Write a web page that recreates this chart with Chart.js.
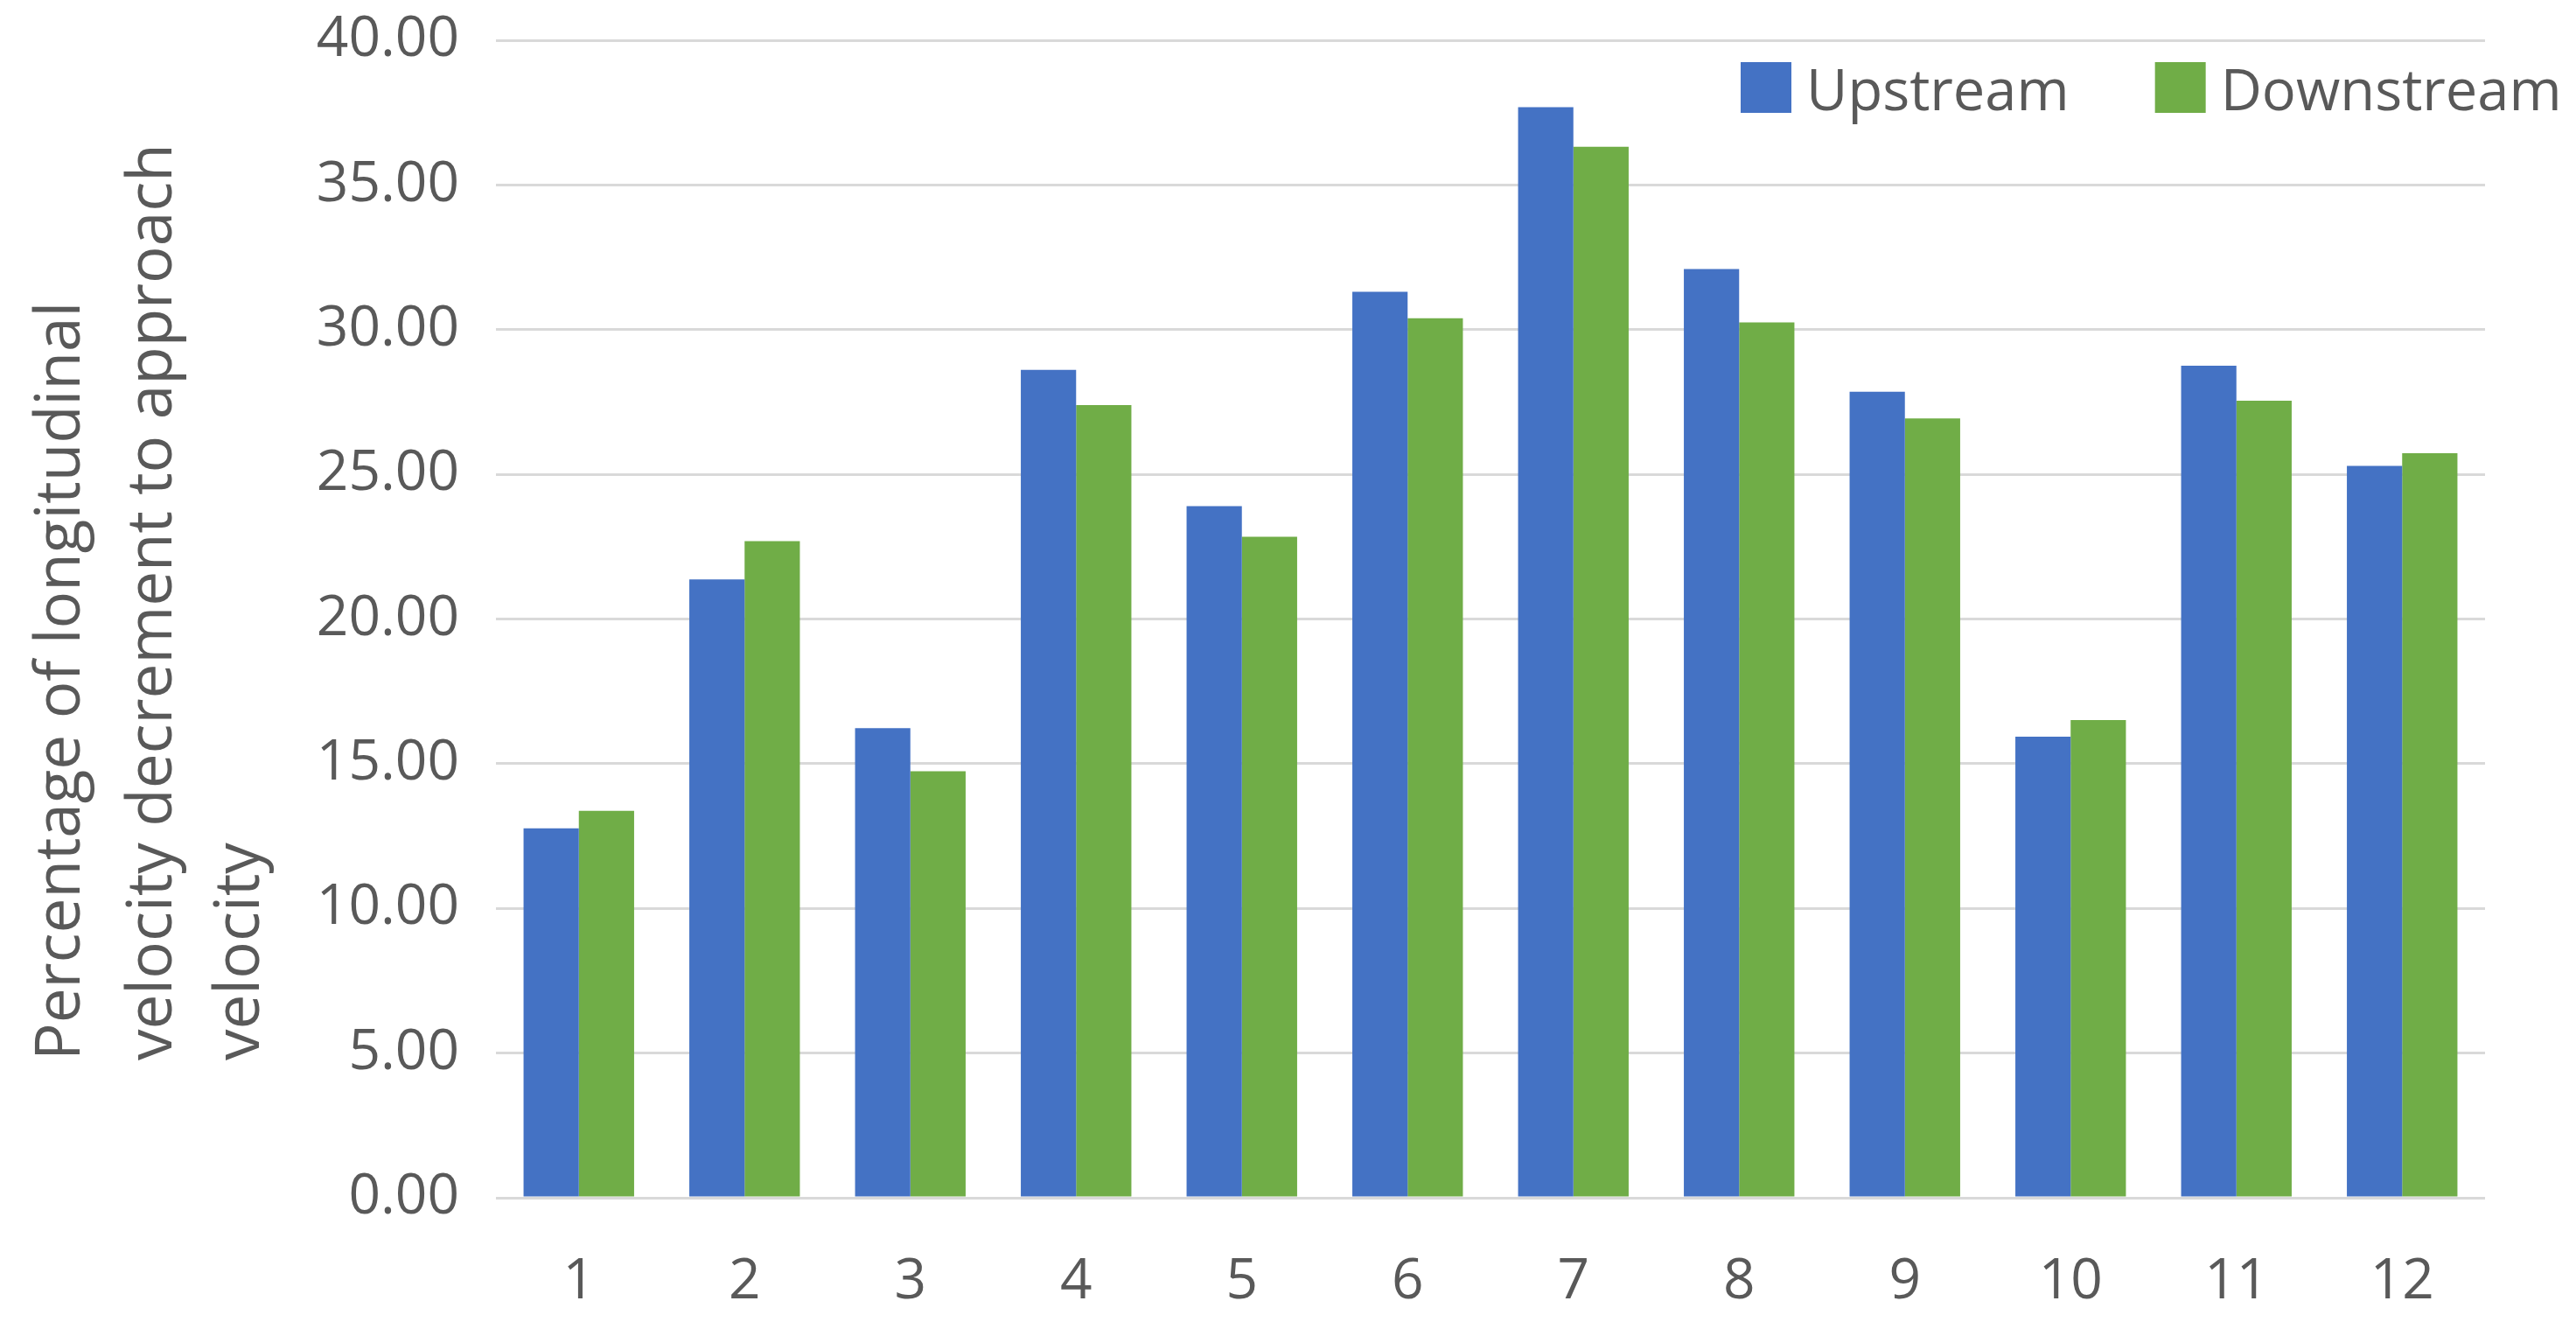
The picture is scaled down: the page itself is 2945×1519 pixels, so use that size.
<!DOCTYPE html>
<html>
<head>
<meta charset="utf-8">
<script src="https://cdn.jsdelivr.net/npm/chart.js@4.4.0/dist/chart.umd.min.js"></script>
<style>
html,body{margin:0;padding:0;background:#ffffff;}
#wrap{width:2945px;height:1519px;}
</style>
</head>
<body>
<div id="wrap"><canvas id="c" width="2945" height="1519"></canvas></div>
<script>
const categories = ['1','2','3','4','5','6','7','8','9','10','11','12'];
const upstream = [12.77, 21.37, 16.23, 28.61, 23.90, 31.31, 37.69, 32.09, 27.85, 15.93, 28.75, 25.29];
const downstream = [13.37, 22.69, 14.74, 27.39, 22.84, 30.39, 36.32, 30.25, 26.93, 16.51, 27.54, 25.73];
const seriesNames = ['Upstream', 'Downstream'];
const yTicks = [0, 5, 10, 15, 20, 25, 30, 35, 40];
const yTitleLines = ['Percentage of longitudinal', 'velocity decrement to approach', 'velocity'];

const FONT = "'Open Sans', 'Noto Sans', sans-serif";
const TEXT = '#595959';
const BLUE = '#4472C4';
const GREEN = '#70AD47';

const yTitlePlugin = {
  id: 'yTitle',
  afterDraw(chart) {
    const ctx = chart.ctx;
    const ca = chart.chartArea;
    ctx.save();
    ctx.fillStyle = TEXT;
    ctx.font = '71px ' + FONT;
    ctx.textAlign = 'left';
    ctx.textBaseline = 'alphabetic';
    const baseX = [91, 196, 296];
    const startY = ca.bottom - 157;
    yTitleLines.forEach((line, i) => {
      ctx.save();
      ctx.translate(baseX[i], startY);
      ctx.rotate(-Math.PI / 2);
      ctx.fillText(line, 0, 0);
      ctx.restore();
    });
    ctx.restore();
  }
};

const legendPlugin = {
  id: 'insideLegend',
  afterDraw(chart) {
    const ctx = chart.ctx;
    ctx.save();
    ctx.font = '65px ' + FONT;
    ctx.textBaseline = 'alphabetic';
    ctx.textAlign = 'left';
    let x = 1990;
    const boxTop = 71, box = 58, baseline = 126;
    chart.data.datasets.forEach(ds => {
      ctx.fillStyle = ds.backgroundColor;
      ctx.fillRect(x, boxTop, box, box);
      ctx.fillStyle = TEXT;
      ctx.fillText(ds.label, x + box + 17, baseline);
      x += box + 17 + ctx.measureText(ds.label).width + 98;
    });
    ctx.restore();
  }
};

new Chart(document.getElementById('c'), {
  type: 'bar',
  data: {
    labels: categories,
    datasets: [
      { label: seriesNames[0], data: upstream, backgroundColor: BLUE, categoryPercentage: 0.667, barPercentage: 1.0 },
      { label: seriesNames[1], data: downstream, backgroundColor: GREEN, categoryPercentage: 0.667, barPercentage: 1.0 }
    ]
  },
  options: {
    responsive: false,
    animation: false,
    devicePixelRatio: 1,
    layout: { padding: { top: 46, right: 104, left: 0, bottom: 0 } },
    plugins: {
      legend: { display: false },
      tooltip: { enabled: false }
    },
    scales: {
      x: {
        grid: { display: false, drawTicks: false },
        border: { display: false },
        ticks: { color: TEXT, font: { family: FONT, size: 64 }, padding: 58 },
        afterFit(s) { s.height = 150; }
      },
      y: {
        min: 0,
        max: 40,
        afterBuildTicks(s) { s.ticks = yTicks.map(v => ({ value: v })); },
        ticks: {
          color: TEXT,
          font: { family: FONT, size: 64 },
          padding: 42,
          callback: v => Number(v).toFixed(2)
        },
        grid: { color: '#D9D9D9', lineWidth: 3, drawTicks: false },
        border: { display: false },
        afterFit(s) { s.width = 567; s.paddingTop = 0; s.paddingBottom = 0; }
      }
    }
  },
  plugins: [yTitlePlugin, legendPlugin]
});
</script>
</body>
</html>
